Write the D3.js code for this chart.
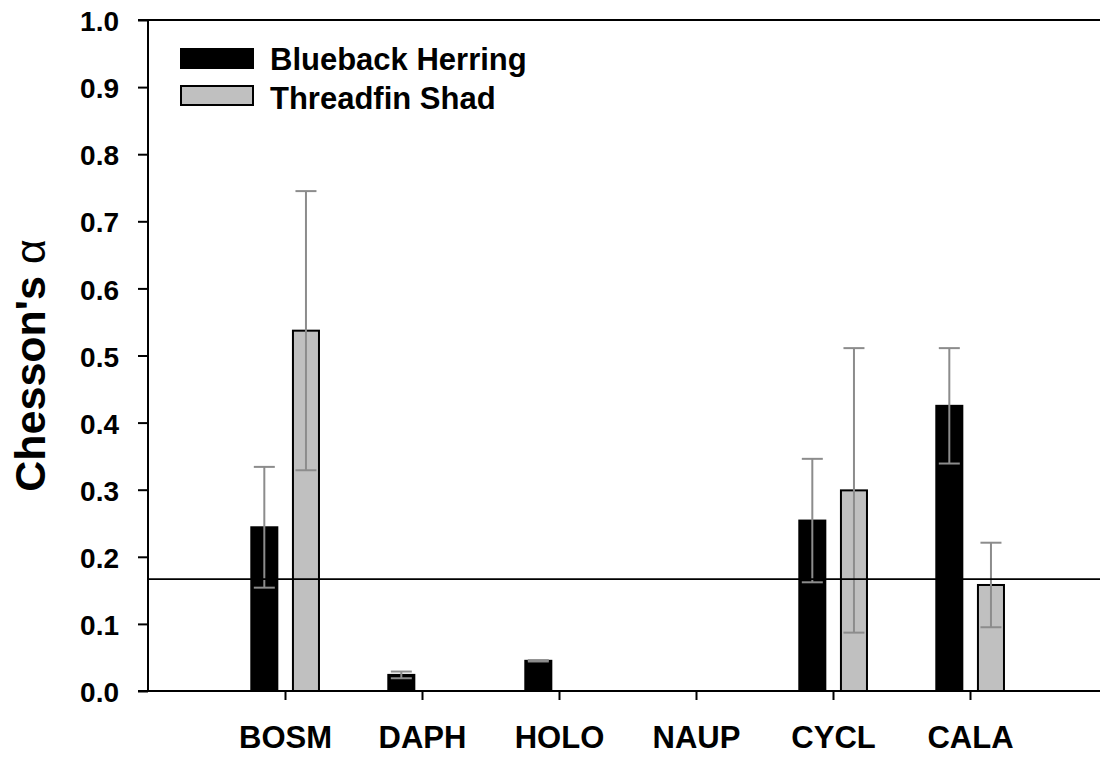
<!DOCTYPE html>
<html>
<head>
<meta charset="utf-8">
<script src="https://cdn.jsdelivr.net/npm/d3@7"></script>
<style>
  html, body { margin: 0; padding: 0; background: #fff; }
  svg { display: block; font-family: "Liberation Sans", Arial, sans-serif; }
</style>
</head>
<body>
<svg id="chart" width="1100" height="757"></svg>
<script>
// Prey categories and electivity (Chesson's alpha) by predator, with standard errors
const categories = ["BOSM", "DAPH", "HOLO", "NAUP", "CYCL", "CALA"];
const seriesNames = ["Blueback Herring", "Threadfin Shad"];
const bluebackMean = [0.244, 0.024, 0.045, 0.0, 0.254, 0.425];
const bluebackSE   = [0.090, 0.005, 0.001, null, 0.092, 0.086];
const threadfinMean = [0.537, 0.0, 0.0, 0.0, 0.299, 0.158];
const threadfinSE   = [0.208, null, null, null, 0.212, 0.063];
const yTicks = [0, 0.1, 0.2, 0.3, 0.4, 0.5, 0.6, 0.7, 0.8, 0.9, 1.0];
const neutralLine = 1 / 6; // neutral selection with six prey types

const svg = d3.select("#chart");
const plotLeft = 148, plotTop = 20, plotBottom = 691, plotRight = 1107;

const x = d3.scaleLinear().domain([0, categories.length + 1]).range([plotLeft, plotRight]);
const y = d3.scaleLinear().domain([0, 1]).range([plotBottom, plotTop]);

const unit = x(1) - x(0);
const barW = unit * 0.19;
const offsets = [-0.151 * unit, 0.153 * unit];
const fills = ["#000000", "#c0c0c0"];
const errColor = "#8c8c8c";

const series = [
  { name: seriesNames[0], mean: bluebackMean, se: bluebackSE, fill: fills[0], off: offsets[0] },
  { name: seriesNames[1], mean: threadfinMean, se: threadfinSE, fill: fills[1], off: offsets[1] }
];

// Frame top line
svg.append("line")
  .attr("x1", plotLeft).attr("x2", plotRight)
  .attr("y1", y(1)).attr("y2", y(1))
  .attr("stroke", "#000").attr("stroke-width", 2);

// Bars
series.forEach(s => {
  svg.append("g").selectAll("rect")
    .data(categories.map((c, i) => ({ i, v: s.mean[i] })).filter(d => d.v > 0))
    .join("rect")
    .attr("x", d => x(d.i + 1) + s.off - barW / 2)
    .attr("y", d => y(d.v))
    .attr("width", barW)
    .attr("height", d => y(0) - y(d.v))
    .attr("fill", s.fill)
    .attr("stroke", "#000")
    .attr("stroke-width", 2);
});

// Error bars (drawn above and below the mean)
const capW = 21;
series.forEach(s => {
  const g = svg.append("g").attr("stroke", errColor).attr("stroke-width", 2).attr("fill", "none");
  categories.forEach((c, i) => {
    const se = s.se[i];
    if (se === null) return;
    const cx = x(i + 1) + s.off;
    const hi = s.mean[i] + se, lo = Math.max(0, s.mean[i] - se);
    g.append("line").attr("x1", cx).attr("x2", cx).attr("y1", y(hi)).attr("y2", y(lo));
    g.append("line").attr("x1", cx - capW / 2).attr("x2", cx + capW / 2).attr("y1", y(hi)).attr("y2", y(hi));
    g.append("line").attr("x1", cx - capW / 2).attr("x2", cx + capW / 2).attr("y1", y(lo)).attr("y2", y(lo));
  });
});

// Neutral selection reference line
svg.append("line")
  .attr("x1", plotLeft).attr("x2", plotRight)
  .attr("y1", y(neutralLine)).attr("y2", y(neutralLine))
  .attr("stroke", "#000").attr("stroke-width", 1.6);

// Y axis
const yAxis = svg.append("g")
  .attr("transform", `translate(${plotLeft},0)`)
  .call(d3.axisLeft(y).tickValues(yTicks).tickFormat(d3.format(".1f")).tickSize(10).tickPadding(19));
yAxis.select(".domain").attr("stroke-width", 2).attr("d", `M-10,${y(1)}H0V${y(0)}H-10`);
yAxis.selectAll(".tick line").attr("stroke-width", 2);
yAxis.selectAll(".tick text")
  .attr("font-family", "'Liberation Sans', Arial, sans-serif")
  .attr("font-size", 28).attr("font-weight", "bold").attr("fill", "#000")
  .attr("dy", "0.38em");

// X axis
const xAxis = svg.append("g")
  .attr("transform", `translate(0,${plotBottom})`)
  .call(d3.axisBottom(x).tickValues(d3.range(1, categories.length + 1))
    .tickFormat(d => categories[d - 1]).tickSize(9).tickPadding(26));
xAxis.select(".domain").attr("stroke-width", 2).attr("d", `M${plotLeft},0H${plotRight}`);
xAxis.selectAll(".tick line").attr("stroke-width", 2);
xAxis.selectAll(".tick text")
  .attr("font-family", "'Liberation Sans', Arial, sans-serif")
  .attr("font-size", 31).attr("font-weight", "bold").attr("fill", "#000")
  .attr("dy", "0.71em");

// Y axis title
const title = svg.append("text")
  .attr("transform", `translate(45,${(y(0) + y(1)) / 2 + 10}) rotate(-90)`)
  .attr("text-anchor", "middle")
  .attr("font-size", 43).attr("font-weight", "bold").attr("fill", "#000");
title.append("tspan").text("Chesson's ");
title.append("tspan").attr("font-weight", "normal").text("α");

// Legend
const legend = svg.append("g");
series.forEach((s, i) => {
  const ly = [49, 86][i];
  legend.append("rect")
    .attr("x", 181).attr("y", ly).attr("width", 72).attr("height", 19)
    .attr("fill", s.fill).attr("stroke", "#000").attr("stroke-width", 2);
  legend.append("text")
    .attr("x", 270).attr("y", [70, 109][i])
    .attr("font-size", 31).attr("font-weight", "bold").attr("fill", "#000")
    .text(s.name);
});
</script>
</body>
</html>
